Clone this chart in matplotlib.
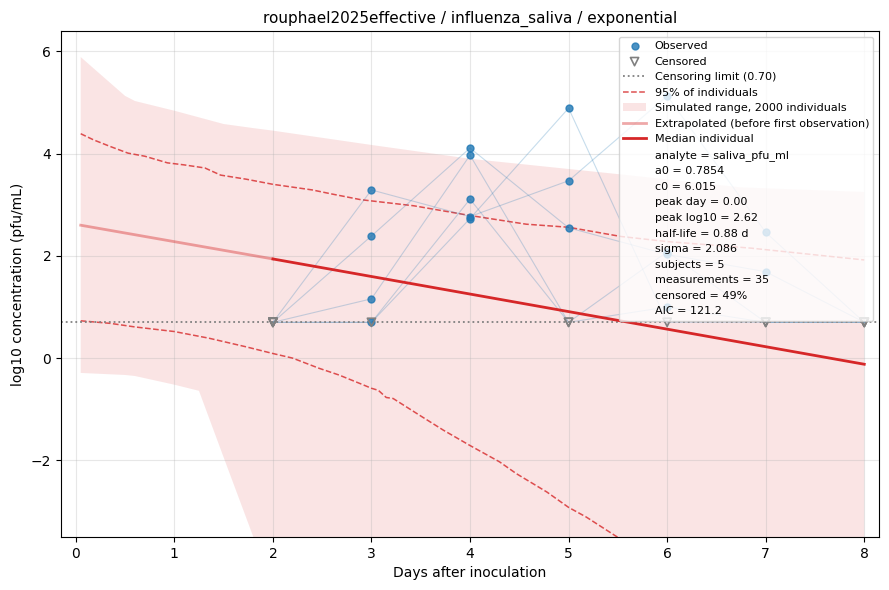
import matplotlib
matplotlib.use("Agg")
import matplotlib.pyplot as plt
from matplotlib.lines import Line2D

# sampling days of the study
days = [2, 3, 4, 5, 6, 7, 8]

# log10 pfu/mL per subject, censored entries at the limit
s1 = [0.70, 3.29, 2.77, 3.47, 5.13, 2.46, 0.70]
s1_cens = [1, 0, 0, 0, 0, 0, 1]
s2 = [0.70, 2.39, 4.11, 2.55, 2.03, 1.69, 0.70]
s2_cens = [1, 0, 0, 0, 0, 0, 1]
s3 = [0.70, 1.16, 3.97, 0.70, 2.08, 0.70, 0.70]
s3_cens = [1, 0, 0, 1, 0, 1, 1]
s4 = [0.70, 0.70, 3.11, 0.70, 1.00, 0.70, 0.70]
s4_cens = [1, 0, 0, 1, 0, 1, 1]
s5 = [0.70, 0.70, 2.73, 4.89, 0.70, 0.70, 0.70]
s5_cens = [1, 1, 0, 0, 1, 1, 1]

LOD = 0.70

# simulated range (2000 individuals)
band_days = [0.05, 0.5, 0.6, 1.0, 1.25, 1.5, 1.8, 2.0, 3.0, 4.0, 5.5, 6.75, 8.0]
band_hi = [5.89, 5.13, 5.03, 4.84, 4.71, 4.58, 4.50, 4.45, 4.17, 3.90, 3.60, 3.34, 3.25]
band_lo = [-0.29, -0.33, -0.35, -0.52, -0.64, -1.94, -3.49, -4.5, -7.0, -9.0, -11.0, -12.0, -13.0]

# 95% of individuals
q_hi_days = [0.05, 0.18, 0.35, 0.53, 0.7, 0.93, 1.1, 1.31, 1.47, 1.73, 2.0, 2.4, 2.6,
             2.89, 3.43, 4.0, 4.57, 5.0, 5.53, 6.0, 6.86, 8.0]
q_hi = [4.39, 4.27, 4.14, 4.01, 3.95, 3.82, 3.78, 3.72, 3.58, 3.50, 3.40, 3.29, 3.21,
        3.10, 2.98, 2.79, 2.62, 2.56, 2.38, 2.28, 2.15, 1.92]
q_lo_days = [0.05, 0.35, 0.6, 1.0, 1.35, 1.73, 2.0, 2.2, 2.47, 2.67, 2.9, 3.0, 3.07,
             3.15, 3.22, 3.49, 3.73, 4.0, 4.3, 4.47, 4.78, 5.0, 5.18, 5.47, 6.0, 7.0, 8.0]
q_lo = [0.73, 0.68, 0.61, 0.52, 0.39, 0.22, 0.09, 0.0, -0.20, -0.33, -0.51, -0.59, -0.63,
        -0.77, -0.79, -1.12, -1.41, -1.71, -2.03, -2.26, -2.62, -2.92, -3.11, -3.47,
        -4.1, -5.4, -6.7]

# median individual
extrap_days = [0.05, 2.0]
extrap_vals = [2.60, 1.94]
median_days = [2.0, 8.0]
median_vals = [1.94, -0.12]

stats = [
    "analyte = saliva_pfu_ml",
    "a0 = 0.7854",
    "c0 = 6.015",
    "peak day = 0.00",
    "peak log10 = 2.62",
    "half-life = 0.88 d",
    "sigma = 2.086",
    "subjects = 5",
    "measurements = 35",
    "censored = 49%",
    "AIC = 121.2",
]

RED = "#d62728"

fig, ax = plt.subplots(figsize=(8.89, 5.9), dpi=100)
fig.subplots_adjust(left=0.0686, right=0.9888, top=0.9475, bottom=0.0898)

band = ax.fill_between(band_days, band_lo, band_hi, color=RED, alpha=0.12, linewidth=0,
                       label="Simulated range, 2000 individuals", zorder=1)
q_line, = ax.plot(q_hi_days, q_hi, color=RED, alpha=0.8, lw=1.1, ls="--",
                  label="95% of individuals", zorder=2)
ax.plot(q_lo_days, q_lo, color=RED, alpha=0.8, lw=1.1, ls="--", zorder=2)
ex_line, = ax.plot(extrap_days, extrap_vals, color=RED, alpha=0.4, lw=2,
                   label="Extrapolated (before first observation)", zorder=3)
med_line, = ax.plot(median_days, median_vals, color=RED, lw=2,
                    label="Median individual", zorder=3)

subjects = [(s1, s1_cens), (s2, s2_cens), (s3, s3_cens), (s4, s4_cens), (s5, s5_cens)]
obs_x, obs_y, cen_x, cen_y = [], [], [], []
for vals, cens in subjects:
    ax.plot(days, vals, color="C0", alpha=0.25, lw=0.8, zorder=2)
    for d, v, c in zip(days, vals, cens):
        if c:
            cen_x.append(d)
            cen_y.append(v)
        else:
            obs_x.append(d)
            obs_y.append(v)

lod_line = ax.axhline(LOD, color="gray", ls=":", lw=1.3,
                      label=f"Censoring limit ({LOD:.2f})", zorder=2)
obs_pts = ax.scatter(obs_x, obs_y, s=25, color="C0", alpha=0.8, zorder=4, label="Observed")
cen_pts = ax.scatter(cen_x, cen_y, s=35, marker="v", facecolors="none",
                     edgecolors="gray", linewidths=1.2, zorder=4, label="Censored")

handles = [obs_pts, cen_pts, lod_line, q_line, band, ex_line, med_line]
handles += [Line2D([], [], linestyle="none", label=s) for s in stats]
ax.legend(handles=handles, loc="upper right", fontsize=8)

ax.set_xlim(-0.15, 8.15)
ax.set_ylim(-3.5, 6.4)
ax.set_xticks(range(0, 9))
ax.grid(True, alpha=0.3)
ax.set_xlabel("Days after inoculation")
ax.set_ylabel("log10 concentration (pfu/mL)")
ax.set_title("rouphael2025effective / influenza_saliva / exponential", fontsize=11)

fig.savefig("out.png", dpi=100)
